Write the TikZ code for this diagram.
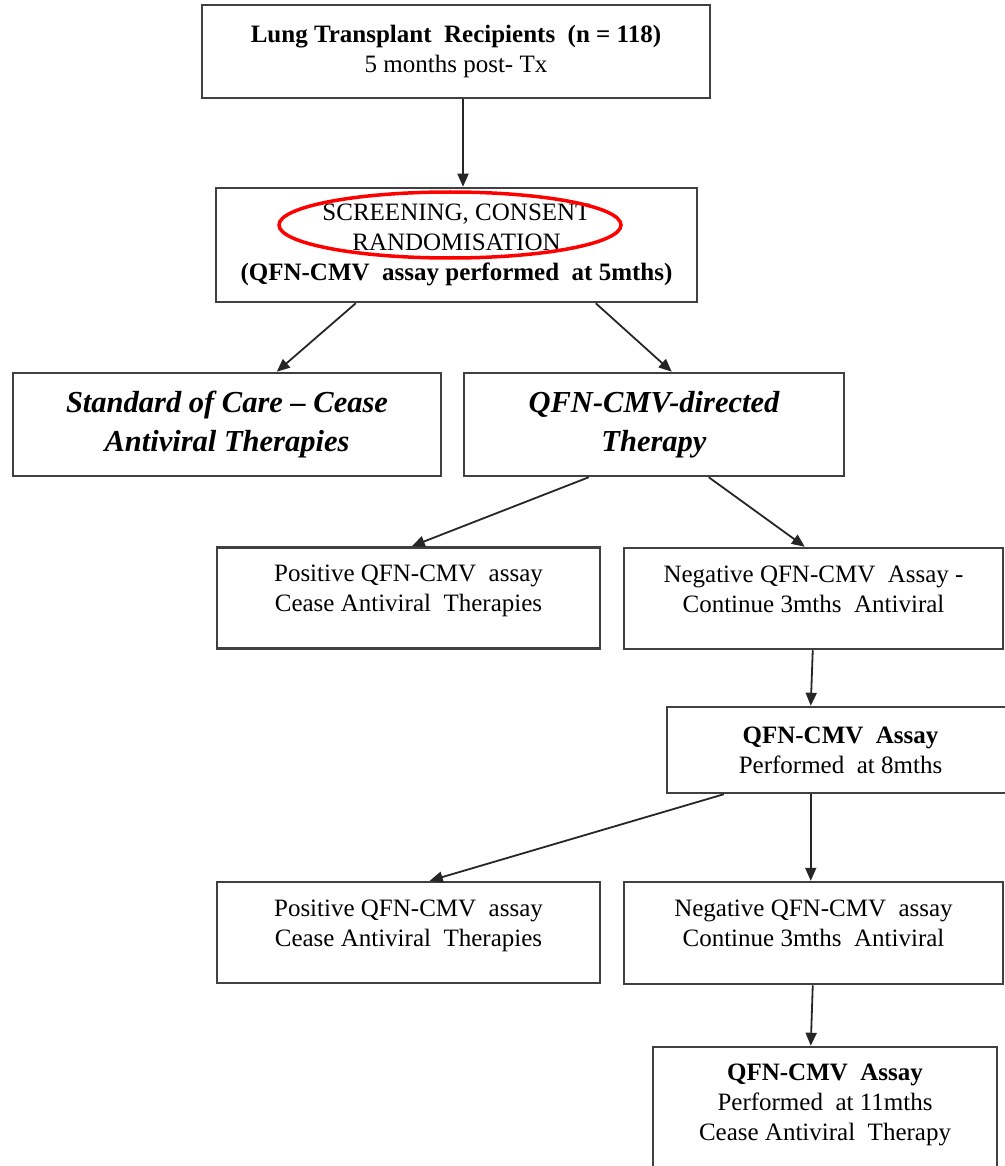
\documentclass[tikz,border=0pt]{standalone}
\usepackage{fontspec}
\setmainfont{Liberation Serif}
\usetikzlibrary{shapes.geometric, arrows.meta}

\begin{document}
\begin{tikzpicture}[
  x=1pt, y=-1pt,
  font=\fontsize{25}{30}\selectfont,
  >={Triangle[length=13pt, width=11pt]},
  flow/.style={->, line width=1.8pt, draw=black!85},
  stage/.style={draw=black!75, line width=2.5pt, align=center, inner sep=0pt},
  arm/.style={stage, font=\fontsize{30.5}{39}\selectfont\bfseries\itshape},
  outcome/.style={stage, text height=48pt, text depth=21pt},
  ring/.style={ellipse, draw=red, line width=3.5pt, inner sep=0pt}
]
  \useasboundingbox (0,0) rectangle (1004,1166);

  % --- Enrolment ---
  \node[stage, minimum width=508pt, minimum height=93pt] (recipients) at (456,51.5)
    {\textbf{Lung Transplant\ \ Recipients\ \ (n = 118)}\\5 months post- Tx};
  \node[stage, minimum width=481pt, minimum height=114pt] (screening) at (456.5,245)
    {SCREENING, CONSENT\\RANDOMISATION\\\textbf{(QFN-CMV\ \ assay performed\ \ at 5mths)}};
  \node[ring, minimum width=342pt, minimum height=66pt] (highlight)
    at ([xshift=-6.5pt, yshift=20pt]screening.center) {};

  % --- Randomisation arms ---
  \node[arm, minimum width=428pt, minimum height=103pt] (care) at (227,424.5)
    {Standard of Care – Cease\\Antiviral Therapies};
  \node[arm, minimum width=380pt, minimum height=103pt] (directed) at (654,424.5)
    {QFN-CMV-directed\\Therapy};

  % --- Result at 5 months ---
  \node[outcome, minimum width=383pt, minimum height=101pt] (pos5) at (408.5,598)
    {Positive QFN-CMV\ \ assay\\Cease Antiviral\ \ Therapies};
  \node[outcome, minimum width=379pt, minimum height=101pt] (neg5) at (813.5,598.5)
    {Negative QFN-CMV\ \ Assay -\\Continue 3mths\ \ Antiviral};

  % --- Assay at 8 months ---
  \node[stage, minimum width=347pt, minimum height=86pt] (assay8) at (840.5,750)
    {\textbf{QFN-CMV\ \ Assay}\\Performed\ \ at 8mths};
  \node[outcome, minimum width=383pt, minimum height=101pt] (pos8) at (408.5,932.5)
    {Positive QFN-CMV\ \ assay\\Cease Antiviral\ \ Therapies};
  \node[outcome, minimum width=379pt, minimum height=102pt] (neg8) at (813.5,933)
    {Negative QFN-CMV\ \ assay\\Continue 3mths\ \ Antiviral};

  % --- Assay at 11 months ---
  \node[stage, minimum width=344pt, minimum height=128pt, text height=78pt, text depth=20pt]
    (assay11) at (825,1111)
    {\textbf{QFN-CMV\ \ Assay}\\Performed\ \ at 11mths\\Cease Antiviral\ \ Therapy};

  % --- Links ---
  \draw[flow] ([xshift=7pt]recipients.south) -- ([xshift=6.5pt]screening.north);
  \draw[flow] ([xshift=141pt]screening.south west) -- ([xshift=265pt]care.north west);
  \draw[flow] ([xshift=381pt]screening.south west) -- ([xshift=209pt]directed.north west);
  \draw[flow] ([xshift=126pt]directed.south west) -- ([xshift=196pt]pos5.north west);
  \draw[flow] ([xshift=246pt]directed.south west) -- ([xshift=182pt]neg5.north west);
  \draw[flow] ([xshift=190pt]neg5.south west) -- ([xshift=145pt]assay8.north west);
  \draw[flow] ([xshift=58pt]assay8.south west) -- ([xshift=214pt]pos8.north west);
  \draw[flow] ([xshift=145pt]assay8.south west) -- ([xshift=188pt]neg8.north west);
  \draw[flow] ([xshift=190pt]neg8.south west) -- ([xshift=159pt]assay11.north west);

\end{tikzpicture}
\end{document}
